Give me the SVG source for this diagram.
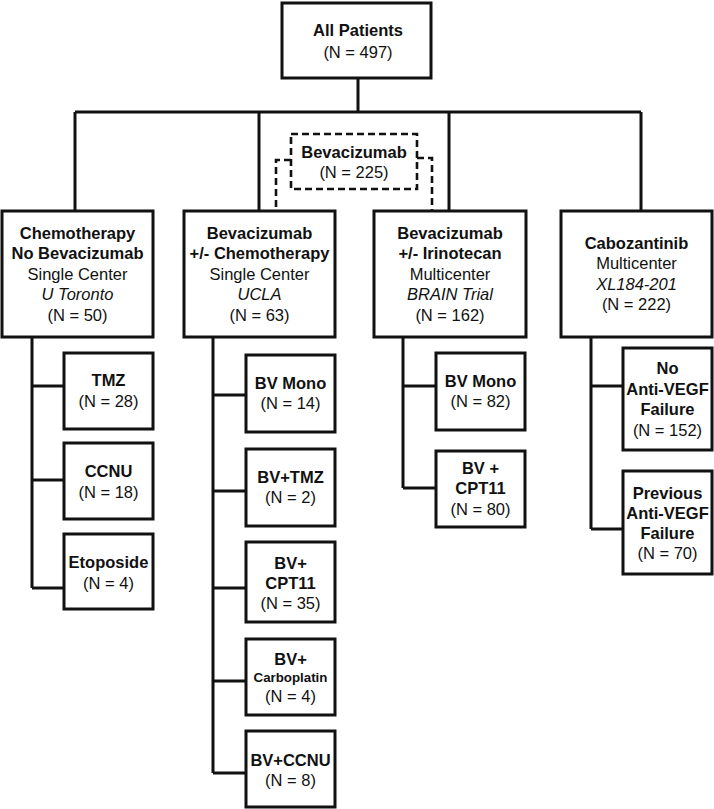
<svg xmlns="http://www.w3.org/2000/svg" width="714" height="809" viewBox="0 0 714 809">
<style>
.ln{stroke:#111;stroke-width:3;fill:none}
.dl{stroke:#111;stroke-width:2.6;fill:none;stroke-dasharray:7,4}
.bx{stroke:#111;stroke-width:3;fill:#fff}
.db{stroke:#111;stroke-width:2.6;fill:#fff;stroke-dasharray:7,4}
text{font-family:"Liberation Sans",Arial,sans-serif;font-size:16.5px;fill:#111;text-anchor:middle}
.b{font-weight:bold}
.i{font-style:italic}
.s{font-size:13.3px}
</style>
<rect width="714" height="809" fill="#fff"/>
<g id="connectors">
<path class="ln" d="M358,78V112M75,112H641M75,112V211M259,112V211M449,112V211M641,112V211"/>
<path class="dl" d="M291,160H276V211M417,158H432V211"/>
<path class="ln" d="M32,337V588M32,386H64M32,480H64M32,588H64"/>
<path class="ln" d="M213,337V773M213,395H246M213,491H246M213,588H246M213,681H246M213,773H246"/>
<path class="ln" d="M403,337V488M403,386H436M403,488H436"/>
<path class="ln" d="M591,337V529M591,386H623M591,529H623"/>
</g>
<g id="all-patients">
<rect class="bx" x="282" y="3" width="149" height="75"/>
<text class="b" x="358" y="36">All Patients</text>
<text x="358" y="58">(N = 497)</text>
</g>
<g id="bevacizumab">
<rect class="db" x="291" y="134" width="126" height="55"/>
<text class="b" x="354" y="158">Bevacizumab</text>
<text x="354" y="178">(N = 225)</text>
</g>
<g id="chemo">
<rect class="bx" x="2" y="211" width="151" height="126"/>
<text class="b" x="77.5" y="239">Chemotherapy</text>
<text class="b" x="77.5" y="259">No Bevacizumab</text>
<text x="77.5" y="280">Single Center</text>
<text class="i" x="77.5" y="300">U Toronto</text>
<text x="77.5" y="321">(N = 50)</text>
</g>
<g id="bev-chemo">
<rect class="bx" x="184" y="211" width="151" height="126"/>
<text class="b" x="259.5" y="239">Bevacizumab</text>
<text class="b" x="259.5" y="259">+/- Chemotherapy</text>
<text x="259.5" y="280">Single Center</text>
<text class="i" x="259.5" y="300">UCLA</text>
<text x="259.5" y="321">(N = 63)</text>
</g>
<g id="bev-irino">
<rect class="bx" x="374" y="211" width="152" height="126"/>
<text class="b" x="450" y="239">Bevacizumab</text>
<text class="b" x="450" y="259">+/- Irinotecan</text>
<text x="450" y="280">Multicenter</text>
<text class="i" x="450" y="300">BRAIN Trial</text>
<text x="450" y="321">(N = 162)</text>
</g>
<g id="cabo">
<rect class="bx" x="561" y="211" width="151" height="126"/>
<text class="b" x="636.5" y="249">Cabozantinib</text>
<text x="636.5" y="269">Multicenter</text>
<text class="i" x="636.5" y="290">XL184-201</text>
<text x="636.5" y="310">(N = 222)</text>
</g>
<g id="tmz">
<rect class="bx" x="64" y="353" width="89" height="76"/>
<text class="b" x="108.5" y="386">TMZ</text>
<text x="108.5" y="407">(N = 28)</text>
</g>
<g id="ccnu">
<rect class="bx" x="64" y="443" width="89" height="76"/>
<text class="b" x="108.5" y="477">CCNU</text>
<text x="108.5" y="498">(N = 18)</text>
</g>
<g id="etoposide">
<rect class="bx" x="64" y="534" width="89" height="75"/>
<text class="b" x="108.5" y="568">Etoposide</text>
<text x="108.5" y="589">(N = 4)</text>
</g>
<g id="bv-mono-ucla">
<rect class="bx" x="246" y="355" width="89" height="77"/>
<text class="b" x="290.5" y="389">BV Mono</text>
<text x="290.5" y="409">(N = 14)</text>
</g>
<g id="bv-tmz">
<rect class="bx" x="246" y="449" width="89" height="77"/>
<text class="b" x="290.5" y="483">BV+TMZ</text>
<text x="290.5" y="503">(N = 2)</text>
</g>
<g id="bv-cpt11-ucla">
<rect class="bx" x="246" y="542" width="89" height="80"/>
<text class="b" x="290.5" y="569">BV+</text>
<text class="b" x="290.5" y="589">CPT11</text>
<text x="290.5" y="609">(N = 35)</text>
</g>
<g id="bv-carbo">
<rect class="bx" x="246" y="639" width="89" height="76"/>
<text class="b" x="290.5" y="665">BV+</text>
<text class="b s" x="290.5" y="682">Carboplatin</text>
<text x="290.5" y="702">(N = 4)</text>
</g>
<g id="bv-ccnu">
<rect class="bx" x="246" y="731" width="89" height="76"/>
<text class="b" x="290.5" y="766">BV+CCNU</text>
<text x="290.5" y="786">(N = 8)</text>
</g>
<g id="bv-mono-brain">
<rect class="bx" x="436" y="353" width="89" height="77"/>
<text class="b" x="480.5" y="387">BV Mono</text>
<text x="480.5" y="407">(N = 82)</text>
</g>
<g id="bv-cpt11-brain">
<rect class="bx" x="436" y="451" width="89" height="76"/>
<text class="b" x="480.5" y="474">BV +</text>
<text class="b" x="480.5" y="494">CPT11</text>
<text x="480.5" y="515">(N = 80)</text>
</g>
<g id="no-failure">
<rect class="bx" x="623" y="348" width="89" height="102"/>
<text class="b" x="667.5" y="374">No</text>
<text class="b" x="667.5" y="395">Anti-VEGF</text>
<text class="b" x="667.5" y="415">Failure</text>
<text x="667.5" y="436">(N = 152)</text>
</g>
<g id="prev-failure">
<rect class="bx" x="623" y="471" width="89" height="103"/>
<text class="b" x="667.5" y="499">Previous</text>
<text class="b" x="667.5" y="519">Anti-VEGF</text>
<text class="b" x="667.5" y="539">Failure</text>
<text x="667.5" y="559">(N = 70)</text>
</g>
</svg>
